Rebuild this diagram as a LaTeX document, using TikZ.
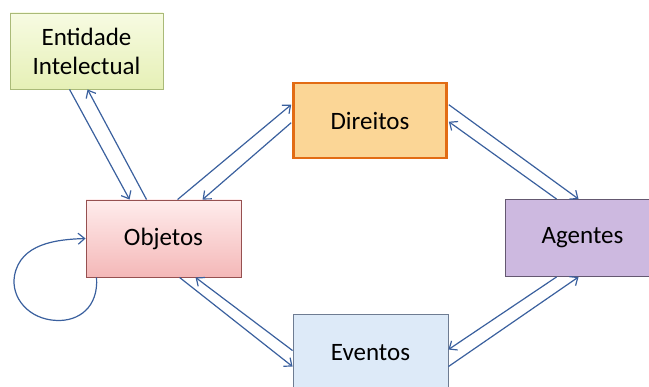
\documentclass[tikz,border=0pt]{standalone}
\usepackage{fontspec}
\setmainfont{Carlito}
\usetikzlibrary{calc,arrows.meta}
\definecolor{conn}{RGB}{58,96,158}
\definecolor{entA}{RGB}{247,251,226}
\definecolor{entB}{RGB}{230,240,182}
\definecolor{entD}{RGB}{170,186,120}
\definecolor{objA}{RGB}{255,236,236}
\definecolor{objB}{RGB}{244,184,184}
\definecolor{objD}{RGB}{150,80,80}
\definecolor{dirF}{RGB}{251,214,150}
\definecolor{dirD}{RGB}{226,108,20}
\definecolor{eveF}{RGB}{221,234,248}
\definecolor{eveD}{RGB}{110,124,146}
\definecolor{ageF}{RGB}{205,185,224}
\definecolor{ageD}{RGB}{100,88,112}
\tikzset{
  box/.style={rectangle, minimum width=155pt, minimum height=77pt, inner sep=0pt,
    font=\fontsize{25}{29}\selectfont, align=center, line width=0.9pt},
  conn/.style={draw=conn, line width=1.2pt, -{Straight Barb[length=6.5pt,width=11pt,line width=1.2pt]}},
}
\begin{document}
\begin{tikzpicture}[x=1pt,y=-1pt]
\useasboundingbox (0,0) rectangle (649,387);
\clip (0,0) rectangle (649,387);
\node[box, minimum width=153pt, minimum height=76pt, top color=entA, bottom color=entB, draw=entD] (ent) at (86.5,51) {Entidade\\Intelectual};
\node[box, top color=objA, bottom color=objB, draw=objD] (obj) at (163.5,238.5) {Objetos};
\node[box, minimum width=153pt, minimum height=75pt, fill=dirF, draw=dirD, line width=2.6pt] (dir) at (370,120.5) {Direitos};
\node[box, fill=eveF, draw=eveD] (eve) at (370.5,352.5) {Eventos};
\node[box, fill=ageF, draw=ageD] (age) at (582.5,238) {Agentes};
% Entidade <-> Objetos
\draw[conn] ($(ent.south west)+(60,0)$) -- ($(obj.north west)+(44,0)$);
\draw[conn] ($(obj.north west)+(61,0)$) -- ($(ent.south west)+(78,0)$);
% Objetos <-> Direitos
\draw[conn] ($(obj.north west)+(92,0)$) -- ($(dir.north west)+(-1,23)$);
\draw[conn] ($(dir.north west)+(-1,41)$) -- ($(obj.north west)+(117,0)$);
% Direitos <-> Agentes
\draw[conn] ($(dir.north east)+(1,23)$) -- ($(age.north west)+(74,0)$);
\draw[conn] ($(age.north west)+(52,0)$) -- ($(dir.north east)+(1,40)$);
% Objetos <-> Eventos
\draw[conn] ($(obj.south west)+(94,0)$) -- ($(eve.north west)+(0,53)$);
\draw[conn] ($(eve.north west)+(0,37)$) -- ($(obj.south west)+(110,0)$);
% Agentes <-> Eventos
\draw[conn] ($(age.south west)+(52,0)$) -- ($(eve.north east)+(0,36)$);
\draw[conn] ($(eve.north east)+(0,53)$) -- ($(age.south west)+(74,0)$);
% self loop
\coordinate (ls) at ($(obj.south west)+(11,0)$);
\draw[conn] (ls) .. controls ($(ls)+(2,30)$) and ($(ls)+(-18,44)$) .. ($(ls)+(-40,43)$)
  .. controls ($(ls)+(-68,42)$) and ($(ls)+(-86,20)$) .. ($(ls)+(-82,-2)$)
  .. controls ($(ls)+(-76,-34)$) and ($(ls)+(-40,-38)$) .. (obj.west);
\end{tikzpicture}
\end{document}
